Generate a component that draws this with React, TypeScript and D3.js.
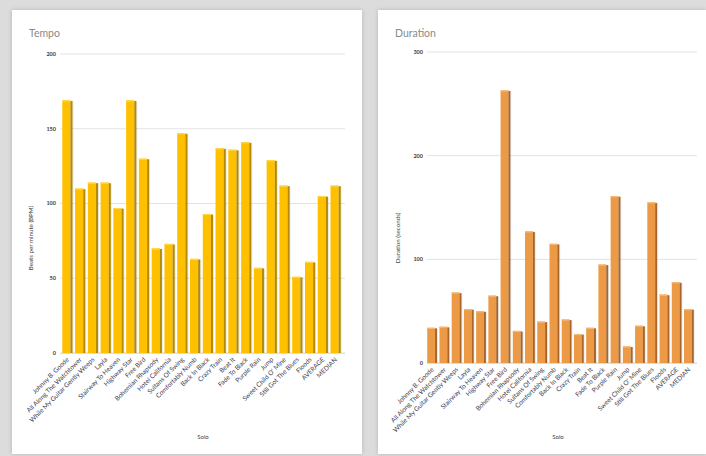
import React from "react";
import * as d3 from "d3";

const solos = [
  "Johnny B. Goode",
  "All Along The Watchtower",
  "While My Guitar Gently Weeps",
  "Layla",
  "Stairway To Heaven",
  "Highway Star",
  "Free Bird",
  "Bohemian Rhapsody",
  "Hotel California",
  "Sultans Of Swing",
  "Comfortably Numb",
  "Back In Black",
  "Crazy Train",
  "Beat It",
  "Fade To Black",
  "Purple Rain",
  "Jump",
  "Sweet Child O' Mine",
  "Still Got The Blues",
  "Floods",
  "AVERAGE",
  "MEDIAN",
];

const tempo = [169, 110, 114, 114, 97, 169, 130, 70, 73, 147, 63, 93, 137, 136, 141, 57, 129, 112, 51, 61, 105, 112];
const duration = [34, 35, 68, 52, 50, 65, 263, 31, 127, 40, 115, 42, 28, 34, 95, 161, 16, 36, 155, 66, 78, 52];

const tempoTicks = [0, 50, 100, 150, 200];
const durationTicks = [0, 100, 200, 300];

const FONT = "Lato, 'Open Sans', sans-serif";

type ChartProps = {
  px: number; py: number; pw: number; ph: number;
  title: string; yTitle: string; xTitle: string;
  values: number[]; ticks: number[]; max: number;
  x0: number; x1: number; y0: number; y1: number;
  gridX0: number; gridX1: number;
  face: string; side: string; top: string;
  yTitleX: number; yTitleY: number; xTitleX: number; xTitleY: number;
};

function Chart(p: ChartProps) {
  const x = d3.scaleBand<string>().domain(solos).range([p.x0, p.x1]).paddingInner(0.2).paddingOuter(0.1);
  const y = d3.scaleLinear().domain([0, p.max]).range([p.y0, p.y1]);
  const bw = x.bandwidth();
  const sideW = Math.max(1.6, bw * 0.2);
  return (
    <g>
      <rect x={p.px} y={p.py} width={p.pw} height={p.ph} fill="#ffffff" filter="url(#shadow)" />
      <text x={p.px + 17} y={p.py + 27} fontSize={10.5} fill="#8a8a8a" fontFamily={FONT}>{p.title}</text>
      {p.ticks.map((t) => (
        <g key={t}>
          <line x1={p.gridX0} x2={p.gridX1} y1={y(t)} y2={y(t)} stroke="#e3e3e3" strokeWidth={1} />
          <text x={p.gridX0 - 4} y={y(t)} dy="0.35em" textAnchor="end" fontSize={5.5} fill="#404040" fontFamily={FONT} fontWeight={700}>{t}</text>
        </g>
      ))}
      {p.values.map((v, i) => {
        const bx = x(solos[i]) as number;
        const by = y(v);
        const h = p.y0 - by;
        return (
          <g key={i}>
            <rect x={bx + 1} y={by + 1} width={bw} height={h - 1} fill="#000" opacity={0.08} />
            <rect x={bx} y={by} width={bw - sideW} height={h} fill={p.face} />
            <rect x={bx + bw - sideW} y={by + 0.6} width={sideW} height={h - 0.6} fill={p.side} />
            <rect x={bx} y={by} width={bw - sideW} height={1.2} fill={p.top} />
          </g>
        );
      })}
      <line x1={p.gridX0} x2={p.gridX1} y1={p.y0 + 0.5} y2={p.y0 + 0.5} stroke="#f3d7c0" strokeWidth={1} />
      {solos.map((s, i) => {
        const cx = (x(s) as number) + bw / 2 + 2;
        const cy = p.y0 + 7;
        return (
          <text key={s} x={cx} y={cy} transform={`rotate(-45 ${cx} ${cy})`} textAnchor="end" fontSize={6.5} fill="#3c3c50" fontFamily={FONT}>{s}</text>
        );
      })}
      <text x={p.yTitleX} y={p.yTitleY} transform={`rotate(-90 ${p.yTitleX} ${p.yTitleY})`} textAnchor="middle" fontSize={6.2} fill="#404040" fontFamily={FONT}>{p.yTitle}</text>
      <text x={p.xTitleX} y={p.xTitleY} textAnchor="middle" fontSize={6} fill="#404040" fontFamily={FONT}>{p.xTitle}</text>
    </g>
  );
}

export default function App() {
  return (
    <svg width={706} height={456} style={{ position: "absolute", left: 0, top: 0, display: "block" }}>
      <defs>
        <filter id="shadow" x="-5%" y="-5%" width="110%" height="110%">
          <feDropShadow dx="0" dy="0" stdDeviation="2" floodColor="#000" floodOpacity="0.18" />
        </filter>
      </defs>
      <rect x={0} y={0} width={706} height={456} fill="#dcdcdc" />
      <Chart
        px={12} py={10} pw={350} ph={444}
        title="Tempo" yTitle="Beats per minute (BPM)" xTitle="Solo"
        values={tempo} ticks={tempoTicks} max={200}
        x0={61} x1={342} y0={353} y1={54}
        gridX0={60} gridX1={345}
        face="#FFC000" side="#B38A00" top="#FFD54D"
        yTitleX={33} yTitleY={238} xTitleX={203} xTitleY={439}
      />
      <Chart
        px={378} py={10} pw={328} ph={444}
        title="Duration" yTitle="Duration (seconds)" xTitle="Solo"
        values={duration} ticks={durationTicks} max={300}
        x0={426} x1={695} y0={363} y1={52}
        gridX0={427} gridX1={697}
        face="#EC9A45" side="#A9662B" top="#F5B97A"
        yTitleX={400} yTitleY={238} xTitleX={558} xTitleY={439}
      />
    </svg>
  );
}
